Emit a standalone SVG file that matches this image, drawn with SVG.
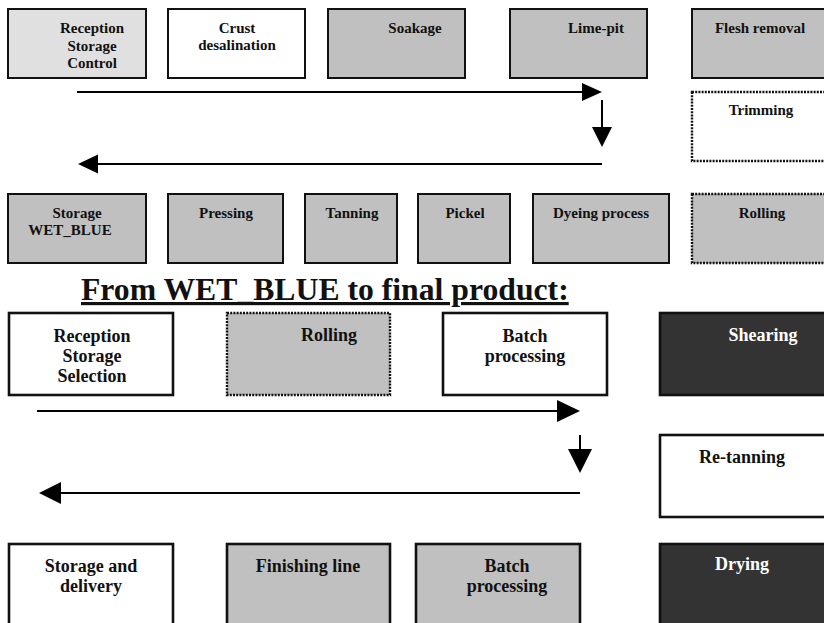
<svg xmlns="http://www.w3.org/2000/svg" width="824" height="623" viewBox="0 0 824 623">
<style>
.b{stroke:#111;stroke-width:2;}
.B{stroke:#111;stroke-width:2.6;}
.d{stroke:#111;stroke-width:2.4;stroke-dasharray:2 1.2;}
.w{fill:#fff;}
.g{fill:#c0c0c0;}
.k{fill:#333;}
.t{font-family:"Liberation Serif","Times New Roman",serif;font-weight:bold;font-size:15px;fill:#111;text-anchor:middle;}
.T{font-family:"Liberation Serif","Times New Roman",serif;font-weight:bold;font-size:18px;fill:#111;text-anchor:middle;}
.wt{fill:#fff;}
.c{stroke:#000;stroke-width:2;fill:none;}
</style>
<rect width="824" height="623" fill="#fff"/>

<g id="n-reception1">
<rect x="8" y="9" width="138" height="69" fill="#e0e0e0" class="b"/>
<text class="t" x="92" y="33">Reception</text>
<text class="t" x="92" y="50.5">Storage</text>
<text class="t" x="92" y="68">Control</text>
</g>
<g id="n-crust">
<rect x="168" y="9" width="137" height="69" class="w b"/>
<text class="t" x="237" y="33">Crust</text>
<text class="t" x="237" y="49.5">desalination</text>
</g>
<g id="n-soakage">
<rect x="328" y="9" width="137" height="69" class="g b"/>
<text class="t" x="415" y="33">Soakage</text>
</g>
<g id="n-limepit">
<rect x="510" y="9" width="137" height="69" class="g b"/>
<text class="t" x="596" y="33">Lime-pit</text>
</g>
<g id="n-flesh">
<rect x="692" y="9" width="140" height="69" class="g b"/>
<text class="t" x="760" y="33">Flesh removal</text>
</g>
<g id="n-trimming">
<rect x="692" y="92" width="140" height="69" class="w d"/>
<text class="t" x="761" y="115">Trimming</text>
</g>

<g id="n-storagewb">
<rect x="8" y="194" width="138" height="69" class="g b"/>
<text class="t" x="77" y="218">Storage</text>
<text class="t" x="70" y="235">WET_BLUE</text>
</g>
<g id="n-pressing">
<rect x="168" y="194" width="115" height="69" class="g b"/>
<text class="t" x="226" y="218">Pressing</text>
</g>
<g id="n-tanning">
<rect x="305" y="194" width="92" height="69" class="g b"/>
<text class="t" x="352" y="218">Tanning</text>
</g>
<g id="n-pickel">
<rect x="418" y="194" width="92" height="69" class="g b"/>
<text class="t" x="465" y="218">Pickel</text>
</g>
<g id="n-dyeing">
<rect x="533" y="194" width="136" height="69" class="g b"/>
<text class="t" x="601" y="218">Dyeing process</text>
</g>
<g id="n-rolling1">
<rect x="692" y="194" width="140" height="69" class="g d"/>
<text class="t" x="762" y="218">Rolling</text>
</g>

<text id="title" x="81" y="300" font-family="'Liberation Serif','Times New Roman',serif" font-weight="bold" font-size="31.7" fill="#111" text-decoration="underline">From WET_BLUE to final product:</text>

<g id="n-reception2">
<rect x="9" y="313" width="164" height="82" class="w B"/>
<text class="T" x="92" y="342">Reception</text>
<text class="T" x="92" y="362">Storage</text>
<text class="T" x="92" y="382">Selection</text>
</g>
<g id="n-rolling2">
<rect x="227" y="313" width="163" height="82" class="g d"/>
<text class="T" x="329" y="341">Rolling</text>
</g>
<g id="n-batch1">
<rect x="443" y="313" width="164" height="82" class="w B"/>
<text class="T" x="525" y="342">Batch</text>
<text class="T" x="525" y="362">processing</text>
</g>
<g id="n-shearing">
<rect x="660" y="313" width="172" height="82" class="k B"/>
<text class="T wt" x="763" y="341">Shearing</text>
</g>
<g id="n-retanning">
<rect x="660" y="435" width="172" height="82" class="w B"/>
<text class="T" x="742" y="463">Re-tanning</text>
</g>
<g id="n-storagedel">
<rect x="9" y="544" width="164" height="90" class="w B"/>
<text class="T" x="91" y="572">Storage and</text>
<text class="T" x="91" y="592">delivery</text>
</g>
<g id="n-finishing">
<rect x="227" y="544" width="163" height="90" class="g B"/>
<text class="T" x="308" y="572">Finishing line</text>
</g>
<g id="n-batch2">
<rect x="416" y="544" width="164" height="90" class="g B"/>
<text class="T" x="507" y="572">Batch</text>
<text class="T" x="507" y="592">processing</text>
</g>
<g id="n-drying">
<rect x="660" y="544" width="172" height="90" class="k B"/>
<text class="T wt" x="742" y="570">Drying</text>
</g>

<g id="connectors">
<line class="c" x1="77" y1="92" x2="584" y2="92"/>
<polygon points="582,83 602,92 582,101" fill="#000"/>
<line class="c" x1="602" y1="100" x2="602" y2="129"/>
<polygon points="592,127 612,127 602,147" fill="#000"/>
<line class="c" x1="602" y1="164" x2="96" y2="164"/>
<polygon points="98,154.5 78,164 98,173.5" fill="#000"/>

<line class="c" x1="37" y1="411" x2="559" y2="411"/>
<polygon points="557,400 580,411 557,422" fill="#000"/>
<line class="c" x1="580" y1="435" x2="580" y2="451"/>
<polygon points="568,449 592,449 580,473" fill="#000"/>
<line class="c" x1="580" y1="493" x2="59" y2="493"/>
<polygon points="61,482 39,493 61,504" fill="#000"/>
</g>
</svg>
